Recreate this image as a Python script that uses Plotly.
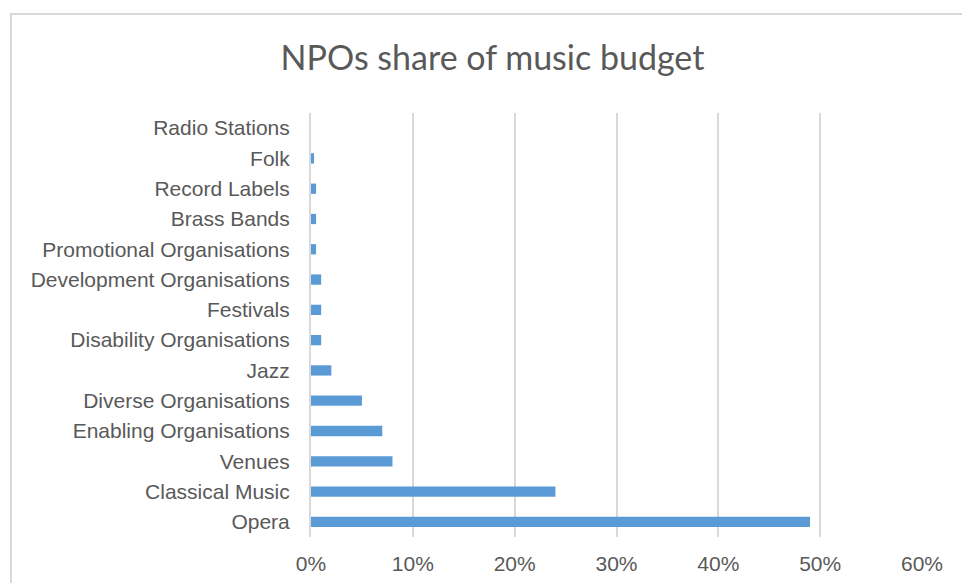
import plotly.graph_objects as go

# Share of the NPO music budget by organisation type (bottom to top)
categories = [
    "Opera", "Classical Music", "Venues", "Enabling Organisations",
    "Diverse Organisations", "Jazz", "Disability Organisations", "Festivals",
    "Development Organisations", "Promotional Organisations", "Brass Bands",
    "Record Labels", "Folk", "Radio Stations",
]
shares = [0.49, 0.24, 0.08, 0.07, 0.05, 0.02, 0.01, 0.01, 0.01,
          0.005, 0.005, 0.005, 0.003, 0.0]
x_ticks = [0, 0.1, 0.2, 0.3, 0.4, 0.5, 0.6]

W, H = 962, 583
L, R, T, B = 311, 40, 113, 46

fig = go.Figure(go.Bar(
    x=shares, y=categories, orientation="h",
    marker=dict(color="#5b9bd5", line=dict(width=0)),
    width=0.34,
))

text_grey = "#595959"
grid_grey = "#d9d9d9"

fig.update_layout(
    width=W, height=H,
    margin=dict(l=L, r=R, t=T, b=B, autoexpand=False),
    paper_bgcolor="white", plot_bgcolor="white",
    showlegend=False,
    title=dict(
        text="NPOs share of music budget",
        x=(492.5) / W, xanchor="center",
        y=1 - 58 / H, yanchor="middle",
        font=dict(family="Lato, Open Sans, sans-serif", size=34, color=text_grey),
    ),
    xaxis=dict(
        range=[0, 0.6], tickvals=x_ticks, tickformat=".0%",
        showgrid=True, gridcolor=grid_grey, gridwidth=1.5,
        zeroline=False, showline=False,
        ticks="outside", ticklen=8, tickcolor="rgba(0,0,0,0)",
        tickfont=dict(family="Liberation Sans, Arial, sans-serif", size=21, color=text_grey),
        fixedrange=True,
    ),
    yaxis=dict(
        categoryorder="array", categoryarray=categories,
        range=[-0.5, len(categories) - 0.5],
        showgrid=False, zeroline=False,
        showline=True, linecolor=grid_grey, linewidth=2,
        ticks="outside", ticklen=15, tickcolor="rgba(0,0,0,0)",
        tickfont=dict(family="Liberation Sans, Arial, sans-serif", size=21, color=text_grey),
        fixedrange=True,
    ),
)

# Chart frame, which runs past the right and bottom edges of the page
pw, ph = W - L - R, H - T - B
fx0 = (11 - L) / pw
fy0 = 1 + (T - 14) / ph
fx1 = (W + 10 - L) / pw
fy1 = -(B + 10) / ph
fig.add_shape(type="rect", xref="paper", yref="paper",
              x0=fx0, x1=fx1, y0=fy1, y1=fy0,
              line=dict(color=grid_grey, width=2), fillcolor="rgba(0,0,0,0)",
              layer="below")

fig.write_html("out.html")
